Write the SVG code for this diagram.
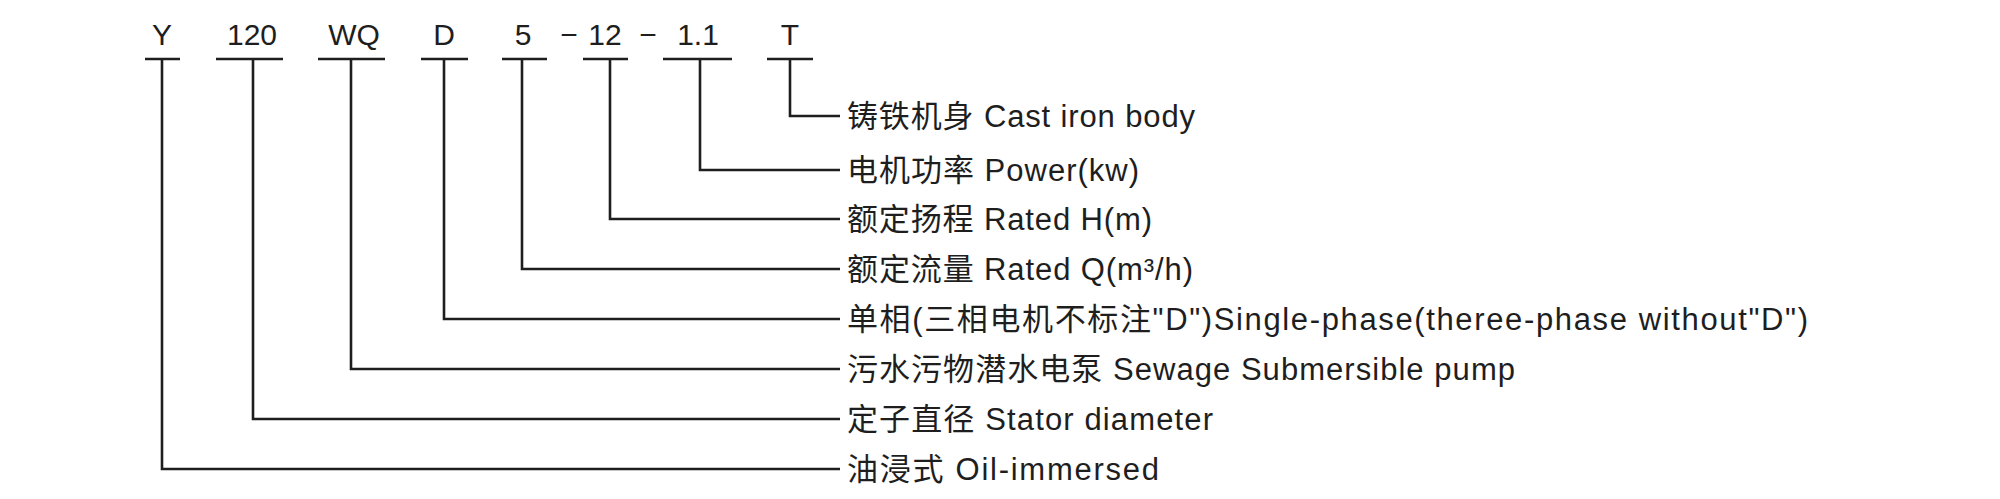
<svg xmlns="http://www.w3.org/2000/svg" width="2000" height="499" viewBox="0 0 2000 499">
<style>
.code{font-family:"Liberation Sans","Noto Sans CJK SC",sans-serif;font-size:30px;fill:#1e1e1e;text-anchor:middle}
.lbl{font-family:"Liberation Sans","Noto Sans CJK SC",sans-serif;font-size:31px;fill:#1e1e1e}
.bar{stroke:#1e1e1e;stroke-width:2.6;fill:none}
.conn{stroke:#1e1e1e;stroke-width:2.6;fill:none}
</style>
<rect width="2000" height="499" fill="#ffffff"/>
<g id="code-Y"><text class="code" x="162" y="45">Y</text><line class="bar" x1="145" y1="59" x2="180" y2="59"/></g>
<g id="code-120"><text class="code" x="252" y="45">120</text><line class="bar" x1="216" y1="59" x2="283" y2="59"/></g>
<g id="code-WQ"><text class="code" x="354" y="45">WQ</text><line class="bar" x1="318" y1="59" x2="385" y2="59"/></g>
<g id="code-D"><text class="code" x="444" y="45">D</text><line class="bar" x1="421" y1="59" x2="468" y2="59"/></g>
<g id="code-5"><text class="code" x="523" y="45">5</text><line class="bar" x1="502" y1="59" x2="547" y2="59"/></g>
<g id="sep-1"><text class="code" x="569" y="45">−</text></g>
<g id="code-12"><text class="code" x="605" y="45">12</text><line class="bar" x1="583" y1="59" x2="628" y2="59"/></g>
<g id="sep-2"><text class="code" x="648" y="45">−</text></g>
<g id="code-1.1"><text class="code" x="698" y="45">1.1</text><line class="bar" x1="663" y1="59" x2="732" y2="59"/></g>
<g id="code-T"><text class="code" x="790" y="45">T</text><line class="bar" x1="767" y1="59" x2="813" y2="59"/></g>

<g id="connectors">
<polyline class="conn" points="790,59 790,116 840,116"/>
<polyline class="conn" points="700,59 700,170 840,170"/>
<polyline class="conn" points="610,59 610,219 840,219"/>
<polyline class="conn" points="522,59 522,269 840,269"/>
<polyline class="conn" points="444,59 444,319 840,319"/>
<polyline class="conn" points="351,59 351,369 840,369"/>
<polyline class="conn" points="253,59 253,419 840,419"/>
<polyline class="conn" points="162,59 162,469 840,469"/>
</g>

<g id="label-T"><text class="lbl" x="847" y="127" textLength="348">铸铁机身 Cast iron body</text></g>
<g id="label-1.1"><text class="lbl" x="847" y="181" textLength="292">电机功率 Power(kw)</text></g>
<g id="label-12"><text class="lbl" x="847" y="230" textLength="305">额定扬程 Rated H(m)</text></g>
<g id="label-5"><text class="lbl" x="847" y="280" textLength="346">额定流量 Rated Q(m³/h)</text></g>
<g id="label-D"><text class="lbl" x="847" y="330" textLength="961">单相(三相电机不标注"D")Single-phase(theree-phase without"D")</text></g>
<g id="label-WQ"><text class="lbl" x="847" y="380" textLength="668">污水污物潜水电泵 Sewage Submersible pump</text></g>
<g id="label-120"><text class="lbl" x="847" y="430" textLength="366">定子直径 Stator diameter</text></g>
<g id="label-Y"><text class="lbl" x="847" y="480" textLength="312">油浸式 Oil-immersed</text></g>
</svg>
